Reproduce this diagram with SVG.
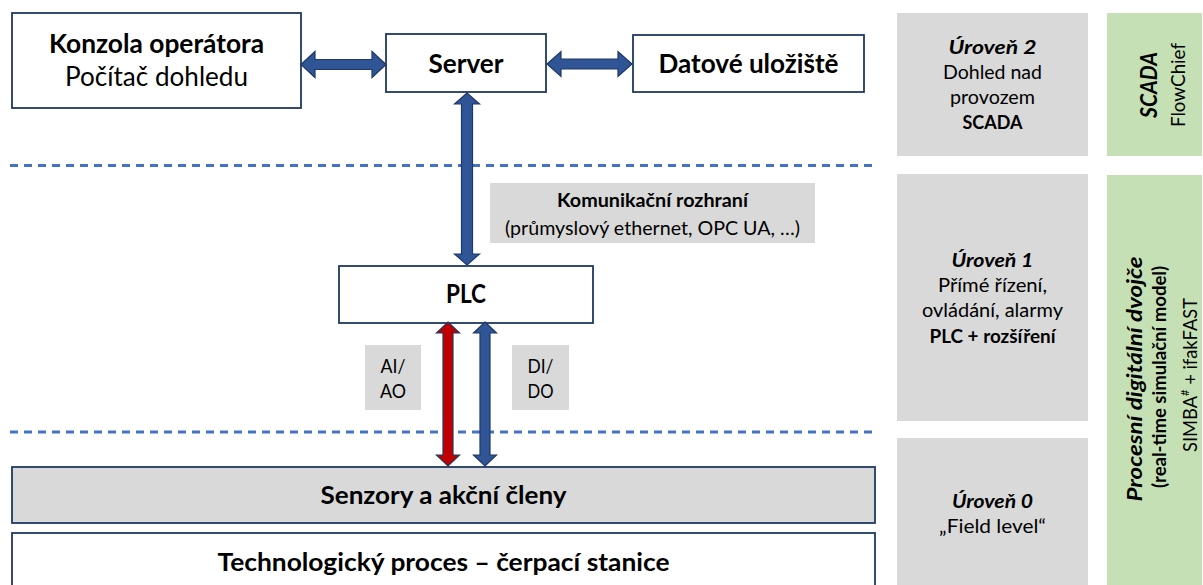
<svg xmlns="http://www.w3.org/2000/svg" width="1203" height="585" viewBox="0 0 1203 585">
<style>
.box{fill:#ffffff;stroke:#1F3864;stroke-width:1.8}
.gbox{fill:#D9D9D9;stroke:#1F3864;stroke-width:1.8}
.lbl{fill:#D9D9D9}
.grn{fill:#C5E0B4}
.dash{stroke:#4472C4;stroke-width:2.8;stroke-dasharray:8 6;fill:none}
.arr{fill:#2F5597;stroke:#1F3864;stroke-width:1.2;stroke-linejoin:miter}
.arr-red{fill:#C00000;stroke:#1F3864;stroke-width:1.2}
text{font-family:Lato,"Open Sans","Liberation Sans",sans-serif;fill:#000;text-anchor:middle}
.b{font-weight:bold}
.bi{font-weight:bold;font-style:italic}
.big{font-size:27px}
.mid{font-size:25px}
.sm{font-size:19.5px}
.r{font-size:19.5px}
</style>
<rect width="1203" height="585" fill="#ffffff"/>

<g id="guides">
<line class="dash" x1="10" y1="165.5" x2="876" y2="165.5"/>
<line class="dash" x1="10" y1="432" x2="876" y2="432"/>
</g>

<g id="konzola">
<rect class="box" x="12" y="13" width="289" height="95"/>
<text class="b big" x="156.5" y="52.5" textLength="215" lengthAdjust="spacingAndGlyphs">Konzola operátora</text>
<text class="big" x="156.5" y="86" textLength="183" lengthAdjust="spacingAndGlyphs">Počítač dohledu</text>
</g>

<g id="server">
<rect class="box" x="386" y="34" width="160" height="58"/>
<text class="b big" x="466" y="73" textLength="75" lengthAdjust="spacingAndGlyphs">Server</text>
</g>

<g id="ulozivste">
<rect class="box" x="633" y="35" width="231" height="57"/>
<text class="b big" x="748.5" y="73" textLength="180" lengthAdjust="spacingAndGlyphs">Datové uložiště</text>
</g>

<g id="plc">
<rect class="box" x="339" y="266" width="254" height="57"/>
<text class="b big" x="466" y="303" textLength="40" lengthAdjust="spacingAndGlyphs">PLC</text>
</g>

<g id="komunikace">
<rect class="lbl" x="490" y="183" width="325" height="60"/>
<text class="b sm" x="652.5" y="207" textLength="191" lengthAdjust="spacingAndGlyphs">Komunikační rozhraní</text>
<text class="sm" x="652.5" y="235" textLength="295" lengthAdjust="spacingAndGlyphs">(průmyslový ethernet, OPC UA, …)</text>
</g>

<g id="aiao">
<rect class="lbl" x="365" y="345" width="56" height="65"/>
<text class="sm" x="393" y="373" textLength="25" lengthAdjust="spacingAndGlyphs">AI/</text>
<text class="sm" x="393" y="398" textLength="26" lengthAdjust="spacingAndGlyphs">AO</text>
</g>

<g id="dido">
<rect class="lbl" x="512" y="345" width="57" height="65"/>
<text class="sm" x="540.5" y="373" textLength="26" lengthAdjust="spacingAndGlyphs">DI/</text>
<text class="sm" x="540.5" y="398" textLength="26" lengthAdjust="spacingAndGlyphs">DO</text>
</g>

<g id="senzory">
<rect class="gbox" x="12" y="467" width="863" height="56"/>
<text class="b mid" x="443.5" y="503.5" textLength="246" lengthAdjust="spacingAndGlyphs">Senzory a akční členy</text>
</g>

<g id="proces">
<rect class="box" x="12" y="533" width="863" height="70"/>
<text class="b mid" x="443.5" y="571" textLength="452" lengthAdjust="spacingAndGlyphs">Technologický proces – čerpací stanice</text>
</g>

<g id="uroven2">
<rect class="lbl" x="897" y="13" width="191" height="143"/>
<text class="bi r" x="992.5" y="53.5" textLength="88" lengthAdjust="spacingAndGlyphs">Úroveň 2</text>
<text class="r" x="992.5" y="78.5" textLength="99" lengthAdjust="spacingAndGlyphs">Dohled nad</text>
<text class="r" x="992.5" y="103.5" textLength="85" lengthAdjust="spacingAndGlyphs">provozem</text>
<text class="b r" x="992.5" y="128.5" textLength="60" lengthAdjust="spacingAndGlyphs">SCADA</text>
</g>

<g id="uroven1">
<rect class="lbl" x="897" y="174" width="191" height="247"/>
<text class="bi r" x="992.5" y="267" textLength="82" lengthAdjust="spacingAndGlyphs">Úroveň 1</text>
<text class="r" x="992.5" y="292" textLength="109" lengthAdjust="spacingAndGlyphs">Přímé řízení,</text>
<text class="r" x="992.5" y="317" textLength="141" lengthAdjust="spacingAndGlyphs">ovládání, alarmy</text>
<text class="b r" x="992.5" y="343" textLength="126" lengthAdjust="spacingAndGlyphs">PLC + rozšíření</text>
</g>

<g id="uroven0">
<rect class="lbl" x="897" y="438" width="191" height="160"/>
<text class="bi r" x="992.5" y="508" textLength="81" lengthAdjust="spacingAndGlyphs">Úroveň 0</text>
<text class="r" x="992.5" y="533" textLength="107" lengthAdjust="spacingAndGlyphs">„Field level“</text>
</g>

<g id="scada-green">
<rect class="grn" x="1107" y="13" width="95" height="143"/>
<text class="bi" font-size="22" transform="translate(1157,85) rotate(-90)" textLength="66" lengthAdjust="spacingAndGlyphs">SCADA</text>
<text font-size="20" transform="translate(1185,85) rotate(-90)" textLength="84" lengthAdjust="spacingAndGlyphs">FlowChief</text>
</g>

<g id="dvojce-green">
<rect class="grn" x="1107" y="175" width="95" height="420"/>
<text class="bi" font-size="21" transform="translate(1142,379) rotate(-90)" textLength="245" lengthAdjust="spacingAndGlyphs">Procesní digitální dvojče</text>
<text class="b" font-size="19.5" transform="translate(1165.5,377) rotate(-90)" textLength="222" lengthAdjust="spacingAndGlyphs">(real-time simulační model)</text>
<text font-size="20" transform="translate(1197,375) rotate(-90)" textLength="154" lengthAdjust="spacingAndGlyphs">SIMBA<tspan font-size="12" dy="-8">#</tspan><tspan dy="8"> + ifakFAST</tspan></text>
</g>

<g id="connectors">
<polygon class="arr" points="301,64.5 315,51.5 315,59.5 372,59.5 372,51.5 386,64.5 372,77.5 372,69.5 315,69.5 315,77.5"/>
<polygon class="arr" points="547,64 561,51.5 561,59 618,59 618,51.5 632,64 618,76.5 618,69 561,69 561,76.5"/>
<polygon class="arr" points="467,93 479.5,104 472.5,104 472.5,254 479.5,254 467,265 454.5,254 461.5,254 461.5,104 454.5,104"/>
<polygon class="arr-red" points="448,322 459.5,333 453,333 453,455 459.5,455 448,466 436.5,455 443,455 443,333 436.5,333"/>
<polygon class="arr" points="485,322 496.5,333 490,333 490,455 496.5,455 485,466 473.5,455 480,455 480,333 473.5,333"/>
</g>
</svg>
